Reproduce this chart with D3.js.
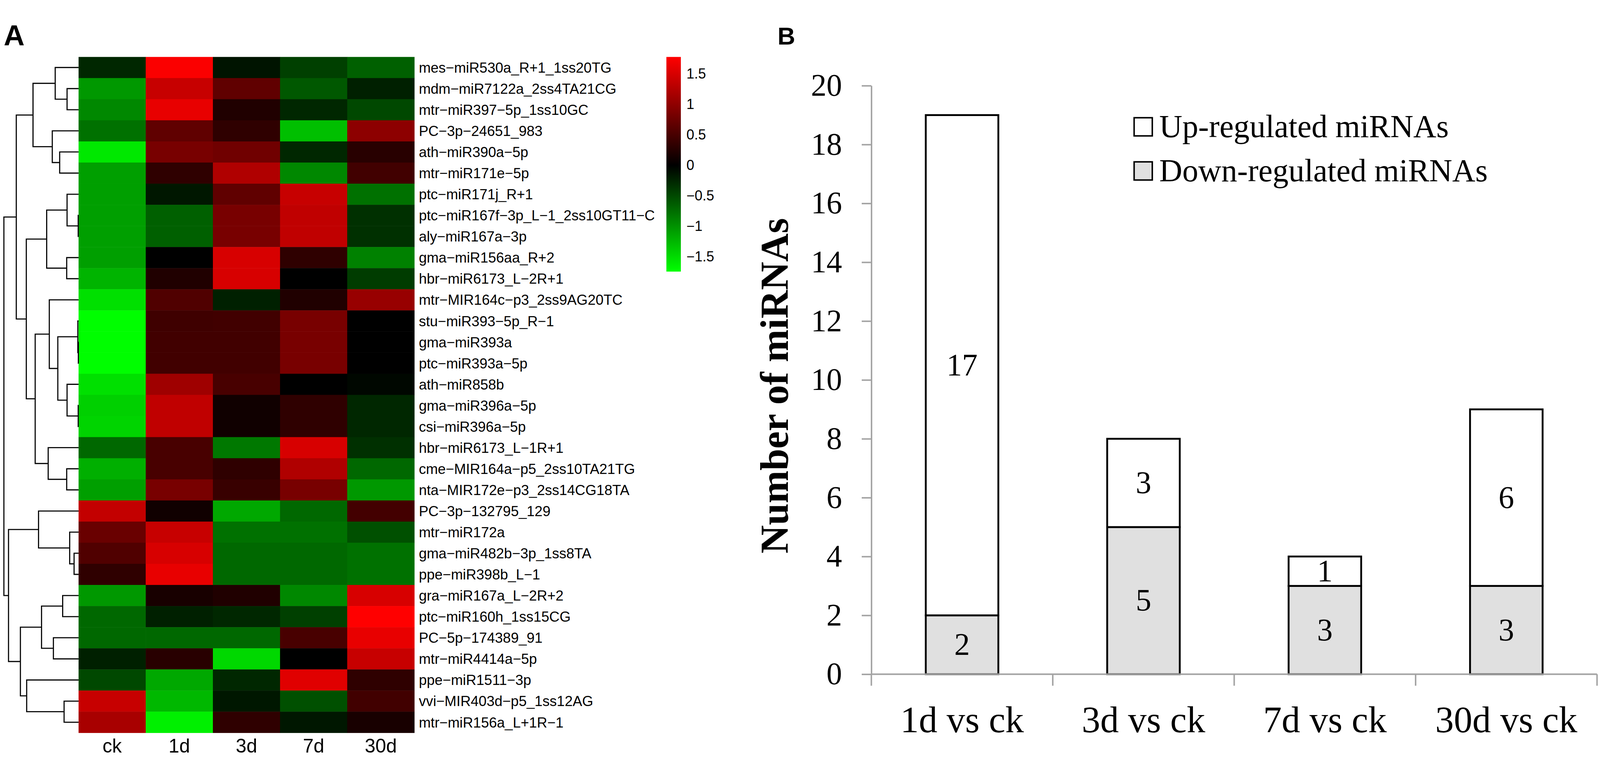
<!DOCTYPE html>
<html>
<head>
<meta charset="utf-8">
<script src="https://cdn.jsdelivr.net/npm/d3@7"></script>
<style>
  html, body { margin: 0; padding: 0; background: #fff; overflow: hidden; }
  svg { display: block; width: 100vw; height: 100vh; }
</style>
</head>
<body>
<div id="chart"></div>
<script>
// ---- panel A data: heatmap + row dendrogram ----
var colNames = ["ck", "1d", "3d", "7d", "30d"];

var rowNames = [
  "mes-miR530a_R+1_1ss20TG", "mdm-miR7122a_2ss4TA21CG", "mtr-miR397-5p_1ss10GC",
  "PC-3p-24651_983", "ath-miR390a-5p", "mtr-miR171e-5p", "ptc-miR171j_R+1",
  "ptc-miR167f-3p_L-1_2ss10GT11-C", "aly-miR167a-3p", "gma-miR156aa_R+2",
  "hbr-miR6173_L-2R+1", "mtr-MIR164c-p3_2ss9AG20TC", "stu-miR393-5p_R-1",
  "gma-miR393a", "ptc-miR393a-5p", "ath-miR858b", "gma-miR396a-5p", "csi-miR396a-5p",
  "hbr-miR6173_L-1R+1", "cme-MIR164a-p5_2ss10TA21TG", "nta-MIR172e-p3_2ss14CG18TA",
  "PC-3p-132795_129", "mtr-miR172a", "gma-miR482b-3p_1ss8TA", "ppe-miR398b_L-1",
  "gra-miR167a_L-2R+2", "ptc-miR160h_1ss15CG", "PC-5p-174389_91", "mtr-miR4414a-5p",
  "ppe-miR1511-3p", "vvi-MIR403d-p5_1ss12AG", "mtr-miR156a_L+1R-1"
];

// z-scores, one row per miRNA, columns ck 1d 3d 7d 30d
var zValues = [
  [-0.27,  1.75, -0.14, -0.44, -0.66],
  [-1.04,  1.39,  0.67, -0.60, -0.22],
  [-0.93,  1.62,  0.22, -0.27, -0.49],
  [-0.77,  0.67,  0.33, -1.31,  0.98],
  [-1.59,  0.84,  0.78, -0.27,  0.28],
  [-1.09,  0.33,  1.23, -0.93,  0.45],
  [-1.09, -0.16,  0.67,  1.39, -0.77],
  [-1.09, -0.66,  0.84,  1.34, -0.33],
  [-1.09, -0.66,  0.84,  1.34, -0.33],
  [-1.09,  0.00,  1.50,  0.33, -0.88],
  [-1.23,  0.22,  1.50,  0.00, -0.41],
  [-1.53,  0.56, -0.22,  0.22,  1.06],
  [-1.74,  0.44,  0.45,  0.84,  0.00],
  [-1.74,  0.45,  0.45,  0.84,  0.00],
  [-1.74,  0.45,  0.45,  0.84,  0.00],
  [-1.53,  1.11,  0.50,  0.00, -0.05],
  [-1.42,  1.34,  0.11,  0.33, -0.27],
  [-1.45,  1.34,  0.11,  0.33, -0.27],
  [-0.71,  0.50, -0.82,  1.50, -0.33],
  [-1.20,  0.50,  0.33,  1.23, -0.71],
  [-1.09,  0.84,  0.39,  0.84, -1.04],
  [ 1.36,  0.11, -1.15, -0.71,  0.47],
  [ 0.73,  1.39, -0.77, -0.77, -0.55],
  [ 0.56,  1.50, -0.71, -0.71, -0.77],
  [ 0.33,  1.62, -0.71, -0.71, -0.77],
  [-1.04,  0.17,  0.22, -0.93,  1.50],
  [-0.71, -0.22, -0.27, -0.44,  1.78],
  [-0.71, -0.71, -0.71,  0.50,  1.62],
  [-0.22,  0.28, -1.48,  0.00,  1.39],
  [-0.49, -1.15, -0.27,  1.56,  0.33],
  [ 1.39, -1.26, -0.16, -0.55,  0.45],
  [ 1.17, -1.64,  0.33, -0.16,  0.17]
];

var zDomain = [-1.745, 0, 1.778];
var zTicks = [-1.5, -1, -0.5, 0, 0.5, 1, 1.5];

// row clustering, leaves are row indexes, h = merge height (root = 1)
var rowTree = {h: 1.0, c: [
  {h: 0.834, c: [
    {h: 0.610, c: [
      {h: 0.313, c: [0, {h: 0.154, c: [1, 2]}]},
      {h: 0.352, c: [3, {h: 0.253, c: [4, 5]}]}
    ]},
    {h: 0.700, c: [
      {h: 0.427, c: [
        {h: 0.154, c: [6, {h: 0.005, c: [7, 8]}]},
        {h: 0.159, c: [9, 10]}
      ]},
      {h: 0.581, c: [
        {h: 0.392, c: [11, {h: 0.278, c: [
          {h: 0.010, c: [12, {h: 0.003, c: [13, 14]}]},
          {h: 0.154, c: [15, {h: 0.005, c: [16, 17]}]}
        ]}]},
        {h: 0.407, c: [18, {h: 0.159, c: [19, 20]}]}
      ]}
    ]}
  ]},
  {h: 0.938, c: [
    {h: 0.536, c: [21, {h: 0.119, c: [22, {h: 0.060, c: [23, 24]}]}]},
    {h: 0.779, c: [
      {h: 0.496, c: [{h: 0.213, c: [25, 26]}, {h: 0.337, c: [27, 28]}]},
      {h: 0.695, c: [29, {h: 0.194, c: [30, 31]}]}
    ]}
  ]}
]};

// ---- panel B data: stacked bars ----
var comparisons = ["1d vs ck", "3d vs ck", "7d vs ck", "30d vs ck"];
var downCounts = [2, 5, 3, 3];
var upCounts = [17, 3, 1, 6];
var seriesNames = ["Down-regulated miRNAs", "Up-regulated miRNAs"];
var countTicks = [0, 2, 4, 6, 8, 10, 12, 14, 16, 18, 20];


var W = 4317, H = 1986;
var svg = d3.select("#chart").append("svg")
  .attr("viewBox", "0 0 " + W + " " + H)
  .attr("preserveAspectRatio", "xMidYMid meet")
  .style("background", "#fff");

var sans = "'Liberation Sans', Arial, sans-serif";
var serif = "'Liberation Serif', 'Times New Roman', serif";
var minus = function(s) { return String(s).replace(/-/g, "\u2212"); };

// ================= A =================
var gA = svg.append("g");

var xHm = d3.scaleBand().domain(colNames).range([212, 1118]);
var yHm = d3.scaleBand().domain(rowNames).range([100, 1923]);
var color = d3.scaleLinear().domain(zDomain).range(["#00ff00", "#000000", "#ff0000"]).clamp(true);

var cells = [];
rowNames.forEach(function(r, i) {
  colNames.forEach(function(c, j) { cells.push({row: r, col: c, v: zValues[i][j]}); });
});

gA.selectAll("rect.cell")
  .data(cells)
  .enter()
  .append("rect")
  .attr("class", "cell")
  .attr("x", d => xHm(d.col))
  .attr("y", d => yHm(d.row))
  .attr("width", xHm.bandwidth() + 0.5)
  .attr("height", yHm.bandwidth() + 0.5)
  .attr("fill", d => color(d.v));

// row labels
gA.selectAll("text.rowlab")
  .data(rowNames)
  .enter()
  .append("text")
  .attr("class", "rowlab")
  .attr("x", xHm.range()[1] + 12)
  .attr("y", d => yHm(d) + yHm.bandwidth() / 2)
  .attr("dy", "0.36em")
  .style("font-family", sans)
  .style("font-size", "38.5px")
  .text(d => minus(d));

// column labels
gA.selectAll("text.collab")
  .data(colNames)
  .enter()
  .append("text")
  .attr("class", "collab")
  .attr("x", d => xHm(d) + xHm.bandwidth() / 2)
  .attr("y", 1976)
  .attr("text-anchor", "middle")
  .style("font-family", sans)
  .style("font-size", "52px")
  .text(d => d);

// dendrogram
var root = d3.hierarchy(rowTree, d => d.c);
var xDen = d3.scaleLinear().domain([0, 1]).range([xHm.range()[0], 10.5]);
root.eachAfter(function(n) {
  if (n.children) {
    n.h = n.data.h;
    n.yy = d3.mean(n.children, c => c.yy);
  } else {
    n.h = 0;
    n.yy = yHm(rowNames[n.data]) + yHm.bandwidth() / 2;
  }
});

var internal = root.descendants().filter(n => n.children);
gA.selectAll("path.den")
  .data(internal)
  .enter()
  .append("path")
  .attr("class", "den")
  .attr("fill", "none")
  .attr("stroke", "#000")
  .attr("stroke-width", 3)
  .attr("d", function(n) {
    var a = n.children[0], b = n.children[1];
    return "M" + xDen(a.h) + "," + a.yy + "H" + xDen(n.h) + "V" + b.yy + "H" + xDen(b.h);
  });

// colour key
var yKey = d3.scaleLinear().domain([zDomain[0], zDomain[2]]).range([679, 100]);
var grad = svg.append("defs").append("linearGradient")
  .attr("id", "keygrad")
  .attr("x1", 0).attr("y1", 1).attr("x2", 0).attr("y2", 0);
grad.selectAll("stop")
  .data(zDomain)
  .enter()
  .append("stop")
  .attr("offset", d => (d - zDomain[0]) / (zDomain[2] - zDomain[0]))
  .attr("stop-color", d => color(d));

gA.append("rect")
  .attr("x", 1798)
  .attr("y", yKey.range()[1])
  .attr("width", 39)
  .attr("height", yKey.range()[0] - yKey.range()[1])
  .attr("fill", "url(#keygrad)");

var keyAxis = gA.append("g")
  .attr("transform", "translate(1837,0)")
  .call(d3.axisRight(yKey).tickValues(zTicks).tickSize(0).tickPadding(15).tickFormat(d => minus(d)));
keyAxis.select(".domain").remove();
keyAxis.selectAll("text")
  .style("font-family", sans)
  .style("font-size", "38px")
  .attr("fill", "#000");

gA.append("text")
  .attr("x", 10).attr("y", 69)
  .style("font-family", sans)
  .style("font-weight", "bold")
  .style("font-size", "78px")
  .text("A");

// ================= B =================
var gB = svg.append("g");

var xBar = d3.scaleBand().domain(comparisons).range([2351, 4309]).paddingInner(0.6).paddingOuter(0.3);
var yBar = d3.scaleLinear().domain([0, 20]).range([1765, 177.5]);

var barRows = comparisons.map(function(c, i) {
  return {name: c, down: downCounts[i], up: upCounts[i]};
});
var stacked = d3.stack().keys(["down", "up"])(barRows);
var fills = {down: "#e0e0e0", up: "#ffffff"};

var layers = gB.selectAll("g.layer")
  .data(stacked)
  .enter()
  .append("g")
  .attr("class", "layer");

layers.selectAll("rect")
  .data(function(s) { return s.map(function(p) { return {key: s.key, p: p}; }); })
  .enter()
  .append("rect")
  .attr("x", d => xBar(d.p.data.name))
  .attr("y", d => yBar(d.p[1]))
  .attr("width", xBar.bandwidth())
  .attr("height", d => yBar(d.p[0]) - yBar(d.p[1]))
  .attr("fill", d => fills[d.key])
  .attr("stroke", "#000")
  .attr("stroke-width", 5);

layers.selectAll("text")
  .data(function(s) { return s.map(function(p) { return {key: s.key, p: p}; }); })
  .enter()
  .append("text")
  .attr("x", d => xBar(d.p.data.name) + xBar.bandwidth() / 2)
  .attr("y", d => yBar((d.p[0] + d.p[1]) / 2))
  .attr("dy", "0.33em")
  .attr("text-anchor", "middle")
  .style("font-family", serif)
  .style("font-size", "84px")
  .text(d => d.p[1] - d.p[0]);

var axisGray = "#a3a3a3";

// y axis
var yAx = gB.append("g")
  .attr("transform", "translate(" + xBar.range()[0] + ",0)")
  .call(d3.axisLeft(yBar).tickValues(countTicks).tickSize(26).tickSizeOuter(0).tickPadding(53));
yAx.select(".domain").attr("stroke", axisGray).attr("stroke-width", 4);
yAx.selectAll(".tick line").attr("stroke", axisGray).attr("stroke-width", 4);
yAx.selectAll("text")
  .style("font-family", serif)
  .style("font-size", "84px")
  .attr("fill", "#000");

// x axis: base line, ticks at band boundaries, labels in bands
var x0 = xBar.range()[0];
var bounds = d3.range(comparisons.length + 1).map(i => x0 + i * (xBar.range()[1] - x0) / comparisons.length);
gB.append("line")
  .attr("x1", xBar.range()[0]).attr("x2", xBar.range()[1])
  .attr("y1", yBar(0)).attr("y2", yBar(0))
  .attr("stroke", axisGray).attr("stroke-width", 4);
gB.selectAll("line.xtick")
  .data(bounds)
  .enter()
  .append("line")
  .attr("class", "xtick")
  .attr("x1", d => d).attr("x2", d => d)
  .attr("y1", yBar(0)).attr("y2", yBar(0) + 31)
  .attr("stroke", axisGray).attr("stroke-width", 4);
gB.selectAll("text.xlab")
  .data(comparisons)
  .enter()
  .append("text")
  .attr("class", "xlab")
  .attr("x", d => xBar(d) + xBar.bandwidth() / 2)
  .attr("y", 1922)
  .attr("text-anchor", "middle")
  .style("font-family", serif)
  .style("font-size", "100px")
  .text(d => d);

gB.append("text")
  .attr("transform", "translate(2126," + yBar(9.8) + ") rotate(-90)")
  .attr("text-anchor", "middle")
  .style("font-family", serif)
  .style("font-weight", "bold")
  .style("font-size", "106px")
  .text("Number of miRNAs");

// legend (up first, then down)
var legendItems = [{key: "up", label: seriesNames[1]}, {key: "down", label: seriesNames[0]}];
var leg = gB.selectAll("g.leg")
  .data(legendItems)
  .enter()
  .append("g")
  .attr("class", "leg")
  .attr("transform", (d, i) => "translate(3060," + (264 + i * 119) + ")");
leg.append("rect")
  .attr("width", 49).attr("height", 49)
  .attr("fill", d => fills[d.key])
  .attr("stroke", "#000").attr("stroke-width", 4);
leg.append("text")
  .attr("x", 68).attr("y", 52)
  .style("font-family", serif)
  .style("font-size", "86px")
  .text(d => d.label);

gB.append("text")
  .attr("x", 2098).attr("y", 67)
  .style("font-family", sans)
  .style("font-weight", "bold")
  .style("font-size", "66px")
  .text("B");
</script>
</body>
</html>
